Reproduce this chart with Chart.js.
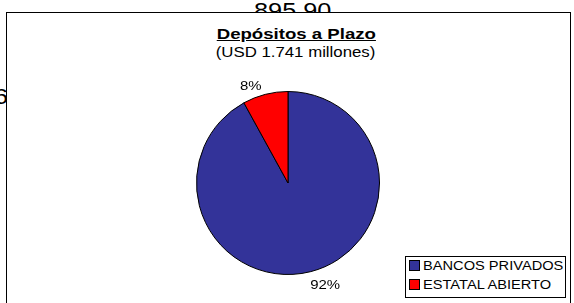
<!DOCTYPE html>
<html>
<head>
<meta charset="utf-8">
<script src="https://cdn.jsdelivr.net/npm/chart.js@4"></script>
<style>
  html, body { margin: 0; padding: 0; background: #fff; }
  body { width: 574px; height: 303px; position: relative; overflow: hidden; font-family: "Liberation Sans", Arial, sans-serif; }
  .stray { position: absolute; font-size: 22px; color: #000; transform: scaleX(1.15); transform-origin: left top; }
  #frame { position: absolute; left: 6px; top: 12px; width: 563px; height: 300px; border: 1.5px solid #000; background: #fff; }
  .centrado { position: absolute; left: 9px; width: 574px; text-align: center; white-space: nowrap; }
  .centrado span { display: inline-block; transform: scaleX(1.2); }
  #titulo { top: 25px; font-size: 15.5px; font-weight: bold; }
  #titulo span { text-decoration: underline; }
  #subtitulo { top: 44px; font-size: 14px; }
  #wrap { position: absolute; left: 0; top: 0; width: 574px; height: 303px; }
  #leyenda { position: absolute; left: 405px; top: 256px; width: 159px; height: 40px; border: 1px solid #000; background: #fff; font-size: 12.5px; }
  #leyenda div { height: 19px; line-height: 19px; padding-left: 3px; white-space: nowrap; }
  #leyenda .caja { display: inline-block; width: 9px; height: 9px; border: 1px solid #000; margin-right: 3px; vertical-align: -1px; }
  #leyenda .txt { display: inline-block; transform: scaleX(1.17); transform-origin: left center; }
</style>
</head>
<body>
<div class="stray" style="left:254px; top:-2px;">895.90</div>
<div class="stray" style="left:-6px; top:84px;">6</div>
<div id="frame"></div>
<div id="titulo" class="centrado"><span>Depósitos a Plazo</span></div>
<div id="subtitulo" class="centrado"><span>(USD 1.741 millones)</span></div>
<div id="wrap"><canvas id="grafico" width="574" height="303"></canvas></div>
<div id="leyenda"></div>
<script>
// Datos
const categorias = ["BANCOS PRIVADOS", "ESTATAL ABIERTO"];
const porcentajes = [92, 8];
const colores = ["#333399", "#FF0000"];

// etiquetas de porcentaje fuera de la torta
const etiquetasPlugin = {
    id: "etiquetas",
    afterDatasetsDraw(chart) {
        const ctx = chart.ctx;
        const meta = chart.getDatasetMeta(0);
        ctx.save();
        ctx.font = "13px 'Liberation Sans', Arial, sans-serif";
        ctx.fillStyle = "#000";
        ctx.textAlign = "center";
        ctx.textBaseline = "middle";
        meta.data.forEach((arc, i) => {
            const p = arc.getProps(["x", "y", "startAngle", "endAngle", "outerRadius"], true);
            // excel deja la etiqueta un poco girada respecto al centro del sector
            const medio = (p.startAngle + p.endAngle) / 2 - 0.105;
            const r = p.outerRadius + 15;
            ctx.save();
            ctx.translate(p.x + Math.cos(medio) * r, p.y + Math.sin(medio) * r + 3);
            ctx.scale(1.15, 1);
            ctx.fillText(porcentajes[i] + "%", 0, 0);
            ctx.restore();
        });
        ctx.restore();
    }
};

const ctx = document.getElementById("grafico").getContext("2d");
new Chart(ctx, {
    type: "pie",
    data: {
        labels: categorias,
        datasets: [{
            data: porcentajes,
            backgroundColor: colores,
            borderColor: "#000",
            borderWidth: 1
        }]
    },
    options: {
        responsive: false,
        animation: false,
        layout: { padding: { top: 91, bottom: 28, left: 196, right: 194 } },
        plugins: {
            legend: { display: false },
            tooltip: { enabled: false }
        }
    },
    plugins: [etiquetasPlugin]
});

// leyenda
const leyenda = document.getElementById("leyenda");
categorias.forEach((cat, i) => {
    const fila = document.createElement("div");
    fila.innerHTML = `<span class="caja" style="background:${colores[i]}"></span><span class="txt">${cat}</span>`;
    leyenda.appendChild(fila);
});
</script>
</body>
</html>
